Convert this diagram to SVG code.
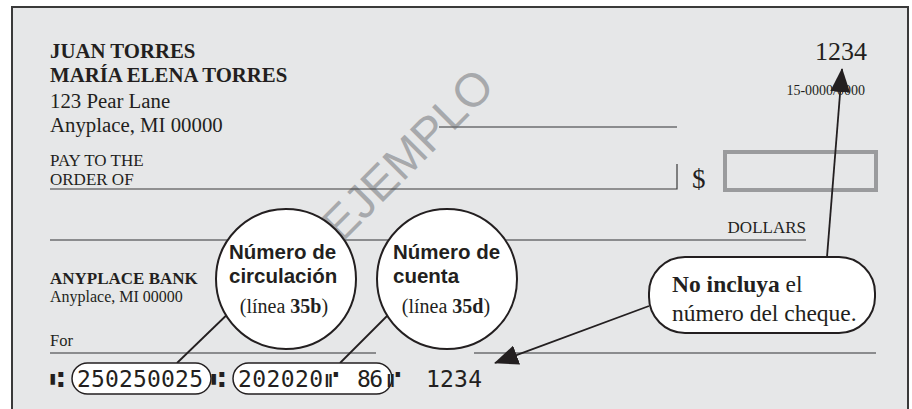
<svg xmlns="http://www.w3.org/2000/svg" width="912" height="409" viewBox="0 0 912 409">
<style>
.serif{font-family:"Liberation Serif","Times New Roman",serif;fill:#231f20}
.sans{font-family:"Liberation Sans",Arial,sans-serif;fill:#231f20}
.micr{font-family:"DejaVu Sans Mono","Liberation Mono",monospace;fill:#231f20;font-size:23px}
.sym{font-family:"DejaVu Sans","Noto Sans",sans-serif;fill:#231f20;font-size:23px}
.b{font-weight:bold}
.gline{stroke:#6d6e71;stroke-width:1.6;fill:none}
.dline{stroke:#3a3a3a;stroke-width:1.2;fill:none}
.bubble{fill:#ffffff;stroke:#231f20;stroke-width:2}
.conn{stroke:#231f20;stroke-width:1.8;fill:none}
</style>
<defs>
<marker id="ah" markerUnits="userSpaceOnUse" viewBox="0 0 24 20" refX="23" refY="10" markerWidth="24" markerHeight="20" orient="auto">
<path d="M0,0 L24,10 L0,20 z" fill="#231f20"/>
</marker>
</defs>
<rect width="912" height="409" fill="#ffffff"/>
<g id="check">
<rect x="12" y="7" width="896" height="420" fill="#e6e7e8" stroke="#3a3a3a" stroke-width="2"/>
</g>
<g id="watermark">
<text class="sans" transform="translate(419,166) rotate(-45)" text-anchor="middle" font-size="47" style="fill:#a7a9ac">EJEMPLO</text>
</g>
<g id="header">
<text class="serif b" x="50" y="58" font-size="20.8">JUAN TORRES</text>
<text class="serif b" x="50" y="82" font-size="20.8">MARÍA ELENA TORRES</text>
<text class="serif" x="50" y="108" font-size="20.8">123 Pear Lane</text>
<text class="serif" x="50" y="132" font-size="20.8">Anyplace, MI 00000</text>
<text class="serif" x="867" y="60" font-size="26" text-anchor="end">1234</text>
<text class="serif" x="865" y="95" font-size="14" text-anchor="end">15-0000/0000</text>
<line class="gline" x1="439" y1="127" x2="677" y2="127"/>
</g>
<g id="payee">
<text class="serif" x="50" y="166" font-size="17">PAY TO THE</text>
<text class="serif" x="50" y="185" font-size="17">ORDER OF</text>
<polyline class="dline" points="50,189 677,189 677,164"/>
<text class="serif" x="692" y="188" font-size="27">$</text>
<rect x="725" y="152" width="151" height="38" fill="none" stroke="#9a9b9d" stroke-width="4"/>
</g>
<g id="dollars">
<text class="serif" x="806" y="233" font-size="17" text-anchor="end">DOLLARS</text>
<line class="gline" x1="50" y1="240" x2="806" y2="240"/>
</g>
<g id="bank">
<text class="serif b" x="50" y="284" font-size="17">ANYPLACE BANK</text>
<text class="serif" x="50" y="302" font-size="16">Anyplace, MI 00000</text>
<text class="serif" x="50" y="346" font-size="16.5">For</text>
<line class="gline" x1="50" y1="353" x2="376" y2="353"/>
<line class="gline" x1="474" y1="353" x2="876" y2="353"/>
</g>
<g id="connectors">
<line class="conn" x1="236" y1="306" x2="177" y2="363"/>
<line class="conn" x1="397" y1="306" x2="340" y2="363"/>
<line class="conn" x1="827" y1="257" x2="842" y2="69" marker-end="url(#ah)"/>
<line class="conn" x1="649" y1="306" x2="495" y2="363" marker-end="url(#ah)"/>
</g>
<g id="micr">
<rect class="bubble" x="72" y="363" width="139" height="31" rx="15.5" style="stroke-width:1.5"/>
<rect class="bubble" x="233" y="363" width="159" height="31" rx="15.5" style="stroke-width:1.5"/>
<text class="sym" x="50" y="387">⑆</text>
<text class="micr" x="77" y="387" textLength="126" lengthAdjust="spacing">250250025</text>
<text class="sym" x="211" y="387">⑆</text>
<text class="micr" x="238" y="387" textLength="85" lengthAdjust="spacing">202020</text>
<text class="sym" x="325" y="387">⑈</text>
<text class="micr" x="357" y="387" textLength="26" lengthAdjust="spacing">86</text>
<text class="sym" x="387" y="387">⑈</text>
<text class="micr" x="426" y="387" textLength="56" lengthAdjust="spacing">1234</text>
</g>
<g id="bubble-routing">
<circle class="bubble" cx="286" cy="279" r="70"/>
<text class="sans b" x="229" y="259" font-size="20.5">Número de</text>
<text class="sans b" x="229" y="283" font-size="20.5">circulación</text>
<text class="serif" x="284" y="313" font-size="20" text-anchor="middle">(línea <tspan class="b">35b</tspan>)</text>
</g>
<g id="bubble-account">
<circle class="bubble" cx="447" cy="279" r="70"/>
<text class="sans b" x="393" y="259" font-size="20.5">Número de</text>
<text class="sans b" x="393" y="283" font-size="20.5">cuenta</text>
<text class="serif" x="446" y="313" font-size="20" text-anchor="middle">(línea <tspan class="b">35d</tspan>)</text>
</g>
<g id="callout-check-number">
<rect class="bubble" x="649" y="257" width="226" height="76" rx="36" ry="36"/>
<text class="serif" x="672" y="292" font-size="23.5"><tspan class="b">No incluya</tspan> el</text>
<text class="serif" x="672" y="321" font-size="23.5">número del cheque.</text>
</g>
</svg>
